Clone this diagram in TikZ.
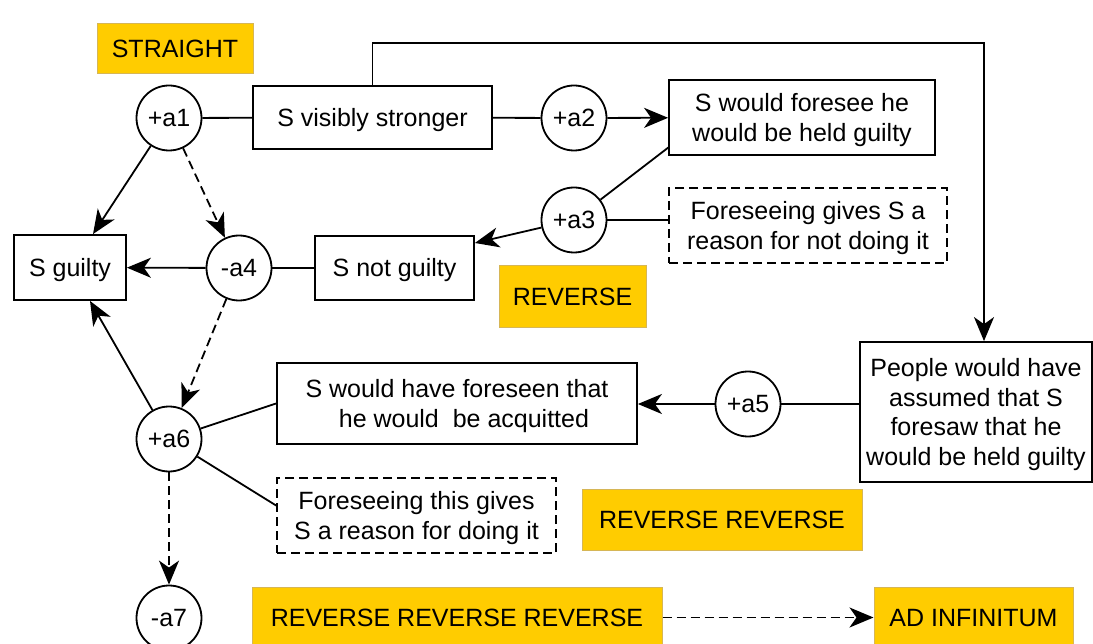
\documentclass[tikz,border=0pt]{standalone}
\usepackage{fontspec}
\setmainfont{Liberation Sans}
\usetikzlibrary{arrows.meta}
\definecolor{gold}{HTML}{FFCC00}
\definecolor{goldline}{HTML}{D6B656}
\newcommand\tx[1]{\raisebox{-3pt}[\height][\depth]{\begin{tabular}{@{}c@{}}#1\end{tabular}}}
\begin{document}
\begin{tikzpicture}[x=1pt,y=-1pt,
  font=\fontsize{25}{29.5}\selectfont,
  line width=1.8pt,
  arr/.style={-{Stealth[length=24pt,width=20pt,inset=7pt]}},
  dsh/.style={dash pattern=on 9pt off 5pt},
  box/.style={draw, line width=1.8pt, rectangle, inner sep=0pt, align=center},
  dbox/.style={box, dsh},
  ybox/.style={rectangle, fill=gold, draw=goldline, line width=1pt, inner sep=0pt, align=center},
  circ/.style={draw, circle, line width=1.8pt, inner sep=0pt, minimum size=65pt}]
\useasboundingbox (0,0) rectangle (1093,644);
\fill[white] (0,0) rectangle (1093,644);
\begin{scope}
\clip (0,0) rectangle (1093,644);
% labels
\node[ybox, minimum width=156pt, minimum height=50pt] (straight) at (175,49) {\tx{STRAIGHT}};
\node[ybox, minimum width=147pt, minimum height=62pt] (rev) at (572.5,297) {\tx{REVERSE}};
\node[ybox, minimum width=280pt, minimum height=61pt] (rr) at (722,519.5) {\tx{REVERSE REVERSE}};
\node[ybox, minimum width=410pt, minimum height=61pt] (rrr) at (457,617.5) {\tx{REVERSE REVERSE REVERSE}};
\node[ybox, minimum width=199pt, minimum height=61pt] (adinf) at (973.5,617.5) {\tx{AD INFINITUM}};
% circles
\node[circ] (a1) at (169,118) {\tx{+a1}};
\node[circ] (a2) at (574,118) {\tx{+a2}};
\node[circ] (a3) at (574,220) {\tx{+a3}};
\node[circ] (a4) at (239,268) {\tx{-a4}};
\node[circ] (a5) at (748,404) {\tx{+a5}};
\node[circ] (a6) at (169,439) {\tx{+a6}};
\node[circ] (a7) at (169,618) {\tx{-a7}};
% boxes
\node[box, minimum width=239pt, minimum height=63pt] (vis) at (372.5,117.5) {\tx{S visibly stronger}};
\node[box, minimum width=266pt, minimum height=75pt] (fore) at (802,117.5) {\tx{S would foresee he\\would be held guilty}};
\node[dbox, minimum width=278pt, minimum height=75pt] (d1) at (808,225.5) {\tx{Foreseeing gives S a\\reason for not doing it}};
\node[box, minimum width=159pt, minimum height=64pt] (sng) at (394.5,268) {\tx{S not guilty}};
\node[box, minimum width=112pt, minimum height=65pt] (sg) at (70,267.5) {\tx{S guilty}};
\node[box, minimum width=232pt, minimum height=140pt] (people) at (976,412) {\tx{People would have\\assumed that S\\foresaw that he\\would be held guilty}};
\node[box, minimum width=360pt, minimum height=81pt] (wh) at (457,403.5) {\tx{S would have foreseen that\\\ \ he would\ \ be acquitted}};
\node[dbox, minimum width=279pt, minimum height=75pt] (d2) at (416.5,515.5) {\tx{Foreseeing this gives\\S a reason for doing it}};
% connectors
\coordinate (top) at (984,43);
\coordinate (f1) at (669,147);
\draw (a1) -- (vis);
\draw (vis) -- (a2);
\draw[arr] (a2) -- (fore);
\draw[arr] (vis.north) |- (top) -- (people.north -| top);
\draw (f1) -- (a3);
\draw (a3.east) -- (a3.east -| d1.west);
\draw[arr] (a3) -- ([yshift=25pt]sng.east);
\draw (a4) -- (sng);
\draw[arr] (a4) -- (sg);
\draw[arr] (a1) -- ([xshift=23pt]sg.north);
\draw[arr,dsh] (a1) -- (a4);
\draw[arr,dsh] (a4) -- (a6);
\draw[arr] (a6) -- ([xshift=20pt]sg.south);
\draw (a6) -- (wh.west);
\draw (a6) -- ([yshift=10pt]d2.west);
\draw[arr] (a5) -- (a5 -| wh.east);
\draw (a5.east) -- (a5.east -| people.west);
\draw[arr,dsh] (a6) -- (a7);
\draw[arr,dsh] (rrr) -- (adinf);
\end{scope}
\end{tikzpicture}
\end{document}
